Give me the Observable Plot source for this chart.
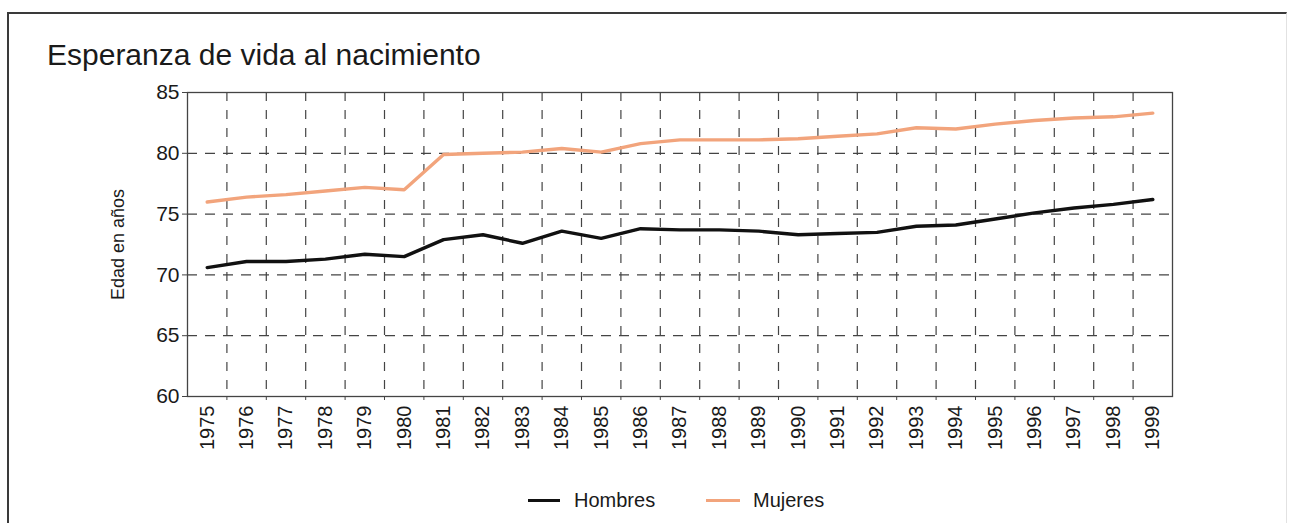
<!DOCTYPE html>
<html><head><meta charset="utf-8">
<script src="https://cdn.jsdelivr.net/npm/d3@7"></script>
<script src="https://cdn.jsdelivr.net/npm/@observablehq/plot@0.6"></script>
<style>
body{margin:0;background:#fff;font-family:"Liberation Sans",Arial,sans-serif;color:#1a1a1a;}
#wrap{position:relative;width:1290px;height:523px;overflow:hidden;background:#fff;}
#border{position:absolute;left:7px;top:12px;width:1277px;height:600px;border-top:2px solid #3a3a3a;border-left:2px solid #3a3a3a;border-right:1px solid #e2e2e2;}
#title{position:absolute;left:47px;top:40px;font-size:30px;line-height:30px;white-space:nowrap;}
#chart{position:absolute;left:0;top:0;}
.sw{position:absolute;height:3px;}
.lt{position:absolute;font-size:20px;line-height:20px;white-space:nowrap;}
</style>
</head><body>
<div id="wrap">
  <div id="border"></div>
  <div id="title"></div>
  <div id="chart"></div>
  <div id="legend"></div>
</div>
<script>
const title = "Esperanza de vida al nacimiento";
const yLabel = "Edad en años";
const years = [1975,1976,1977,1978,1979,1980,1981,1982,1983,1984,1985,1986,1987,1988,1989,1990,1991,1992,1993,1994,1995,1996,1997,1998,1999];
const hombres = [70.6,71.1,71.1,71.3,71.7,71.5,72.9,73.3,72.6,73.6,73.0,73.8,73.7,73.7,73.6,73.3,73.4,73.5,74.0,74.1,74.6,75.1,75.5,75.8,76.2];
const mujeres = [76.0,76.4,76.6,76.9,77.2,77.0,79.9,80.0,80.1,80.4,80.1,80.8,81.1,81.1,81.1,81.2,81.4,81.6,82.1,82.0,82.4,82.7,82.9,83.0,83.3];
const seriesNames = ["Hombres","Mujeres"];
const seriesColors = ["#111111","#f2a47c"];
const yTicks = [60,65,70,75,80,85];
const yGrid = [65,70,75,80];

const boundaries = years.slice(1).map(y => y - 0.5);
const data = [];
years.forEach((yr,i) => {
  data.push({year: yr, value: hombres[i], serie: seriesNames[0]});
  data.push({year: yr, value: mujeres[i], serie: seriesNames[1]});
});

document.getElementById("title").textContent = title;

const chart = Plot.plot({
  width: 1290,
  height: 480,
  marginTop: 92,
  marginBottom: 84,
  marginLeft: 187,
  marginRight: 118,
  style: {fontFamily: "'Liberation Sans', Arial, sans-serif", color: "#1a1a1a", background: "transparent"},
  x: {domain: [years[0]-0.5, years[years.length-1]+0.5]},
  y: {domain: [yTicks[0], yTicks[yTicks.length-1]]},
  color: {domain: seriesNames, range: seriesColors},
  marks: [
    Plot.ruleY(yGrid, {stroke: "#444", strokeDasharray: "10,8", strokeWidth: 1.2}),
    Plot.ruleX(boundaries, {stroke: "#444", strokeDasharray: "9,9", strokeWidth: 1.2}),
    Plot.frame({stroke: "#444", strokeWidth: 1.3}),
    Plot.axisY(yTicks, {tickSize: 5, tickPadding: 3, fontSize: 21, label: null, stroke: "#444"}),
    Plot.axisX(years, {tickSize: 0, tickPadding: 9, tickRotate: -90, fontSize: 20, tickFormat: d => String(d), label: null}),
    Plot.axisX(boundaries, {tickSize: 4, tickFormat: () => "", label: null, stroke: "#444"}),
    Plot.line(data, {x: "year", y: "value", z: "serie", stroke: "serie", strokeWidth: 3.4, curve: "linear"}),
    Plot.text([yLabel], {frameAnchor: "left", textAnchor: "middle", dx: -69, rotate: -90, fontSize: 18, fill: "#1a1a1a"})
  ]
});
document.getElementById("chart").appendChild(chart);

const legend = document.getElementById("legend");
const legendPos = [{sw: 528, w: 32, tx: 574}, {sw: 706, w: 34, tx: 753}];
seriesNames.forEach((n,i) => {
  const s = document.createElement("div");
  s.className = "sw";
  s.style.left = legendPos[i].sw + "px";
  s.style.width = legendPos[i].w + "px";
  s.style.top = "499px";
  s.style.background = seriesColors[i];
  legend.appendChild(s);
  const t = document.createElement("div");
  t.className = "lt";
  t.style.left = legendPos[i].tx + "px";
  t.style.top = "490px";
  t.textContent = n;
  legend.appendChild(t);
});
</script>
</body></html>
